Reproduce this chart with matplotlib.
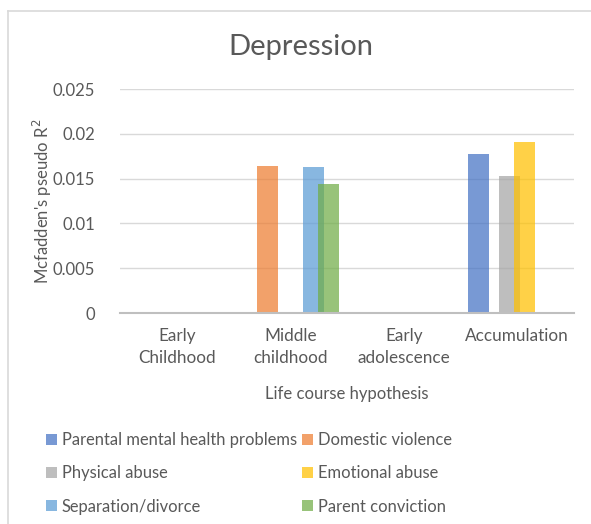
import matplotlib
matplotlib.use("Agg")
import matplotlib.pyplot as plt
import numpy as np
from matplotlib.lines import Line2D

categories = ["Early\nChildhood", "Middle\nchildhood", "Early\nadolescence", "Accumulation"]
series_names = ["Parental mental health problems", "Domestic violence", "Physical abuse",
                "Emotional abuse", "Separation/divorce", "Parent conviction"]
parental_mh = [0, 0, 0, 0.0178]
domestic_violence = [0, 0.0164, 0, 0]
physical_abuse = [0, 0, 0, 0.0153]
emotional_abuse = [0, 0, 0, 0.0191]
separation_divorce = [0, 0.0163, 0, 0]
parent_conviction = [0, 0.0144, 0, 0]
values = [parental_mh, domestic_violence, physical_abuse, emotional_abuse,
          separation_divorce, parent_conviction]
colors = ["#4472C4", "#ED7D31", "#A5A5A5", "#FFC000", "#5B9BD5", "#70AD47"]
yticks = [0, 0.005, 0.01, 0.015, 0.02, 0.025]
ytick_labels = ["0", "0.005", "0.01", "0.015", "0.02", "0.025"]

W, H = 591, 524
fig = plt.figure(figsize=(W / 100, H / 100), dpi=100)
plt.rcParams['font.family'] = ['Lato', 'DejaVu Sans']
txt = "#595959"

ax = fig.add_axes([120 / W, (H - 313) / H, (574 - 120) / W, (313 - 89) / H])
x = np.arange(len(categories))
step = 0.136
bw = 0.185
handles = []
for i, (vals, c) in enumerate(zip(values, colors)):
    b = ax.bar(x + (i - 2.5) * step, vals, width=bw, color=c, alpha=0.72, zorder=2,
               label=series_names[i], linewidth=0)
    handles.append(b)

ax.set_xlim(-0.5, 3.5)
ax.set_ylim(0, 0.025)
ax.set_yticks(yticks)
ax.set_yticklabels(ytick_labels)
ax.set_xticks(x)
ax.set_xticklabels(categories, linespacing=1.45, va="top")
ax.tick_params(axis="both", length=0, labelsize=12.3, colors=txt)
ax.tick_params(axis="y", pad=18, labelsize=12)
ax.tick_params(axis="x", pad=11)
ax.grid(axis="y", color="#D9D9D9", linewidth=1, zorder=0)
ax.set_axisbelow(True)
for s in ["top", "right", "left"]:
    ax.spines[s].set_visible(False)
ax.spines["bottom"].set_color("#BFBFBF")
ax.spines["bottom"].set_linewidth(1.5)
ax.spines["bottom"].set_zorder(3)

ax.set_xlabel("Life course hypothesis", fontsize=12, color=txt, labelpad=14)
ax.set_ylabel("Mcfadden's pseudo R$^2$", fontsize=12, color=txt, va="center")
ax.yaxis.set_label_coords((42 - 120) / (574 - 120), 0.5)

fig.text(301 / W, 1 - 47 / H, "Depression", fontsize=21, color=txt, ha="center", va="center")

order = [0, 2, 4, 1, 3, 5]
leg = fig.legend(handles=[handles[k] for k in order], labels=[series_names[k] for k in order],
                 ncol=2, loc="upper left",
                 bbox_to_anchor=(31 / W, 1 - 417 / H), frameon=False, fontsize=11.9,
                 handlelength=0.65, handleheight=0.65, handletextpad=0.3,
                 columnspacing=0.35, labelspacing=1.05, labelcolor=txt)
for p in leg.get_patches():
    p.set_alpha(0.72)

fig.add_artist(Line2D([8 / W, 8 / W], [0, 1 - 11 / H], transform=fig.transFigure,
                      color="#D9D9D9", linewidth=1.2))
fig.add_artist(Line2D([8 / W, 1], [1 - 11 / H, 1 - 11 / H], transform=fig.transFigure,
                      color="#D9D9D9", linewidth=1.2))

fig.savefig("out.png", dpi=100)
